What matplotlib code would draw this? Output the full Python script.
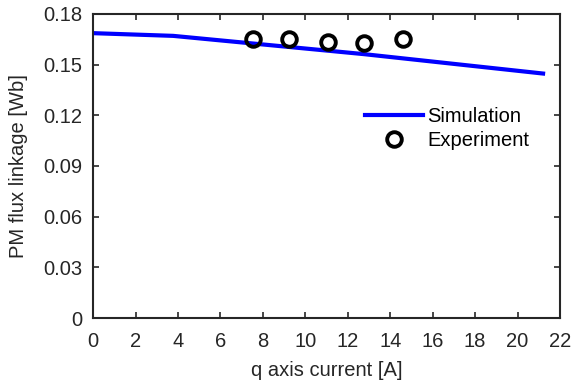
import matplotlib
matplotlib.use("Agg")
import matplotlib.pyplot as plt

plt.rcParams['font.family'] = ['Liberation Sans', 'DejaVu Sans']

# simulation curve
sim_i = [0, 3.77, 12.75, 21.2]
sim_psi = [0.1686, 0.1670, 0.1562, 0.1447]

# measured points
exp_i = [7.52, 9.25, 11.05, 12.75, 14.59]
exp_psi = [0.1652, 0.1650, 0.1632, 0.1630, 0.1650]

xticks = list(range(0, 23, 2))
yticks = [0, 0.03, 0.06, 0.09, 0.12, 0.15, 0.18]


def main():
    fig = plt.figure(figsize=(5.75, 3.86), dpi=100)
    ax = fig.add_axes([0.162, 0.176, 0.812, 0.788])

    ax.plot(sim_i, sim_psi, color='#0000ff', lw=3, label='Simulation')
    ax.plot(exp_i, exp_psi, 'o', mfc='none', mec='black', mew=2.8, ms=10.5,
            label='Experiment')

    fs = 14.5
    ax.set_xlim(0, 22); ax.set_ylim(0, 0.18)
    ax.set_xticks(xticks); ax.set_yticks(yticks)
    ax.set_yticklabels(['0' if t == 0 else f"{t:.2f}" for t in yticks])
    ax.tick_params(direction='in', top=True, right=True, labelsize=fs,
                   length=4, width=1.2, color='#262626', labelcolor='#262626')
    ax.tick_params(axis='x', pad=10)
    ax.tick_params(axis='y', pad=8)
    for s in ax.spines.values():
        s.set_linewidth(1.5); s.set_color('#262626')
    ax.set_xlabel('q axis current [A]', fontsize=fs, color='#262626', labelpad=7)
    ax.set_ylabel('PM flux linkage [Wb]', fontsize=fs, color='#262626', labelpad=11)

    ax.legend(loc='upper left', bbox_to_anchor=(0.582, 0.695), frameon=False,
              fontsize=fs, handlelength=2.9, handletextpad=0.2,
              borderaxespad=0, labelspacing=0.25, borderpad=0)

    fig.savefig('out.png', dpi=100)


if __name__ == "__main__":
    main()
